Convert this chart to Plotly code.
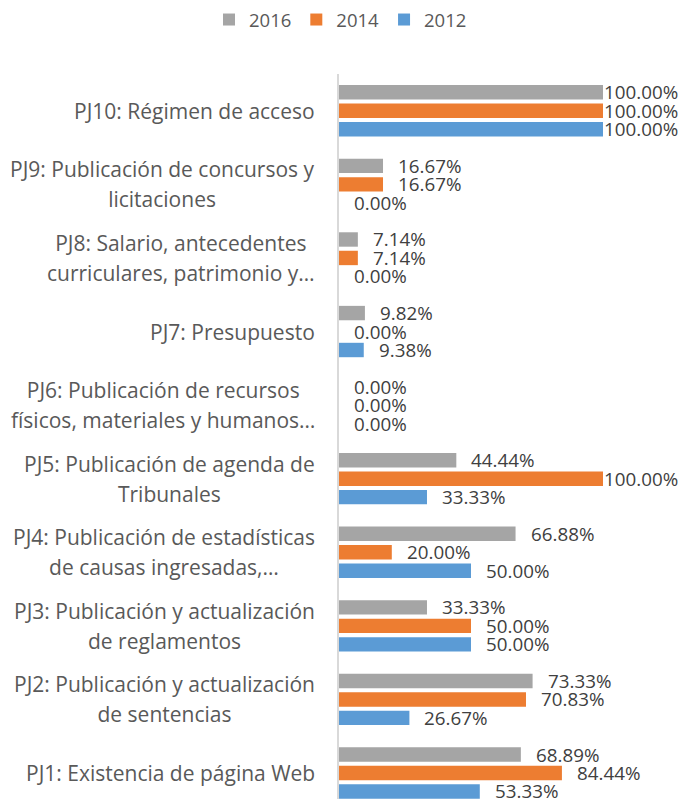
import plotly.graph_objects as go

# Categories, bottom to top
categories = ["PJ1", "PJ2", "PJ3", "PJ4", "PJ5", "PJ6", "PJ7", "PJ8", "PJ9", "PJ10"]
category_labels = [
    ["PJ1: Existencia de página Web"],
    ["PJ2: Publicación y actualización", "de sentencias"],
    ["PJ3: Publicación y actualización", "de reglamentos"],
    ["PJ4: Publicación de estadísticas", "de causas ingresadas,…"],
    ["PJ5: Publicación de agenda de", "Tribunales"],
    ["PJ6: Publicación de recursos", "físicos, materiales y humanos…"],
    ["PJ7: Presupuesto"],
    ["PJ8: Salario, antecedentes", "curriculares, patrimonio y…"],
    ["PJ9: Publicación de concursos y", "licitaciones"],
    ["PJ10: Régimen de acceso"],
]

values_2012 = [53.33, 26.67, 50.00, 50.00, 33.33, 0.00, 9.38, 0.00, 0.00, 100.00]
values_2014 = [84.44, 70.83, 50.00, 20.00, 100.00, 0.00, 0.00, 7.14, 16.67, 100.00]
values_2016 = [68.89, 73.33, 33.33, 66.88, 44.44, 0.00, 9.82, 7.14, 16.67, 100.00]

series = [
    ("2012", values_2012, "#5B9BD5"),
    ("2014", values_2014, "#ED7D31"),
    ("2016", values_2016, "#A5A5A5"),
]

W, H = 681, 799
M_L, M_R, M_T, M_B = 339, 78, 74, 0
Y_RANGE = [-0.353, 9.5]
BARGAP, GROUPGAP = 0.247, 0.22

FONT = "Open Sans"
TEXT_GREY = "#595959"
VALUE_GREY = "#404040"

fig = go.Figure()
for name, vals, color in series:
    fig.add_trace(go.Bar(
        name=name, y=categories, x=vals, orientation="h",
        marker=dict(color=color, line=dict(width=0)),
        hoverinfo="x+name",
    ))

# pixel height of one category unit, used to place value labels on each bar
px_per_unit = (H - M_T - M_B) / (Y_RANGE[1] - Y_RANGE[0])
slot = px_per_unit * (1 - BARGAP) / len(series)

annotations = []
for i, (name, vals, color) in enumerate(series):
    offset = (i - (len(series) - 1) / 2) * slot
    for cat, v in zip(categories, vals):
        annotations.append(dict(
            x=v, y=cat, xref="x", yref="y",
            text=f"{v:.2f}%", showarrow=False,
            xanchor="left", yanchor="middle",
            xshift=-1 if v >= 100 else 13, yshift=offset,
            font=dict(family=FONT, size=18.8, color=VALUE_GREY),
        ))

# category labels, centred lines, right edge near the axis
for cat, lines in zip(categories, category_labels):
    txt = "<br>".join(f"<span style='font-size:21px'>{ln}</span>" for ln in lines)
    annotations.append(dict(
        x=0, y=cat, xref="paper", yref="y",
        text=txt, showarrow=False,
        xanchor="right", yanchor="middle", align="center",
        xshift=-22,
        font=dict(family=FONT, size=23, color=TEXT_GREY),
    ))

fig.update_layout(
    width=W, height=H,
    margin=dict(l=M_L, r=M_R, t=M_T, b=M_B),
    paper_bgcolor="white", plot_bgcolor="white",
    barmode="group", bargap=BARGAP, bargroupgap=GROUPGAP,
    showlegend=True,
    legend=dict(
        orientation="h", traceorder="reversed",
        xref="container", yref="container",
        x=0.5, xanchor="center", y=1 - 20 / H, yanchor="middle",
        font=dict(family=FONT, size=18.5, color=TEXT_GREY),
        itemwidth=30,
    ),
    xaxis=dict(range=[0, 100], visible=False, showgrid=False, zeroline=False),
    yaxis=dict(
        type="category", categoryorder="array", categoryarray=categories,
        range=Y_RANGE, showticklabels=False, ticks="",
        showgrid=False, zeroline=False,
        showline=True, linecolor="#D9D9D9", linewidth=2,
    ),
    annotations=annotations,
)

fig.write_html("out.html")
